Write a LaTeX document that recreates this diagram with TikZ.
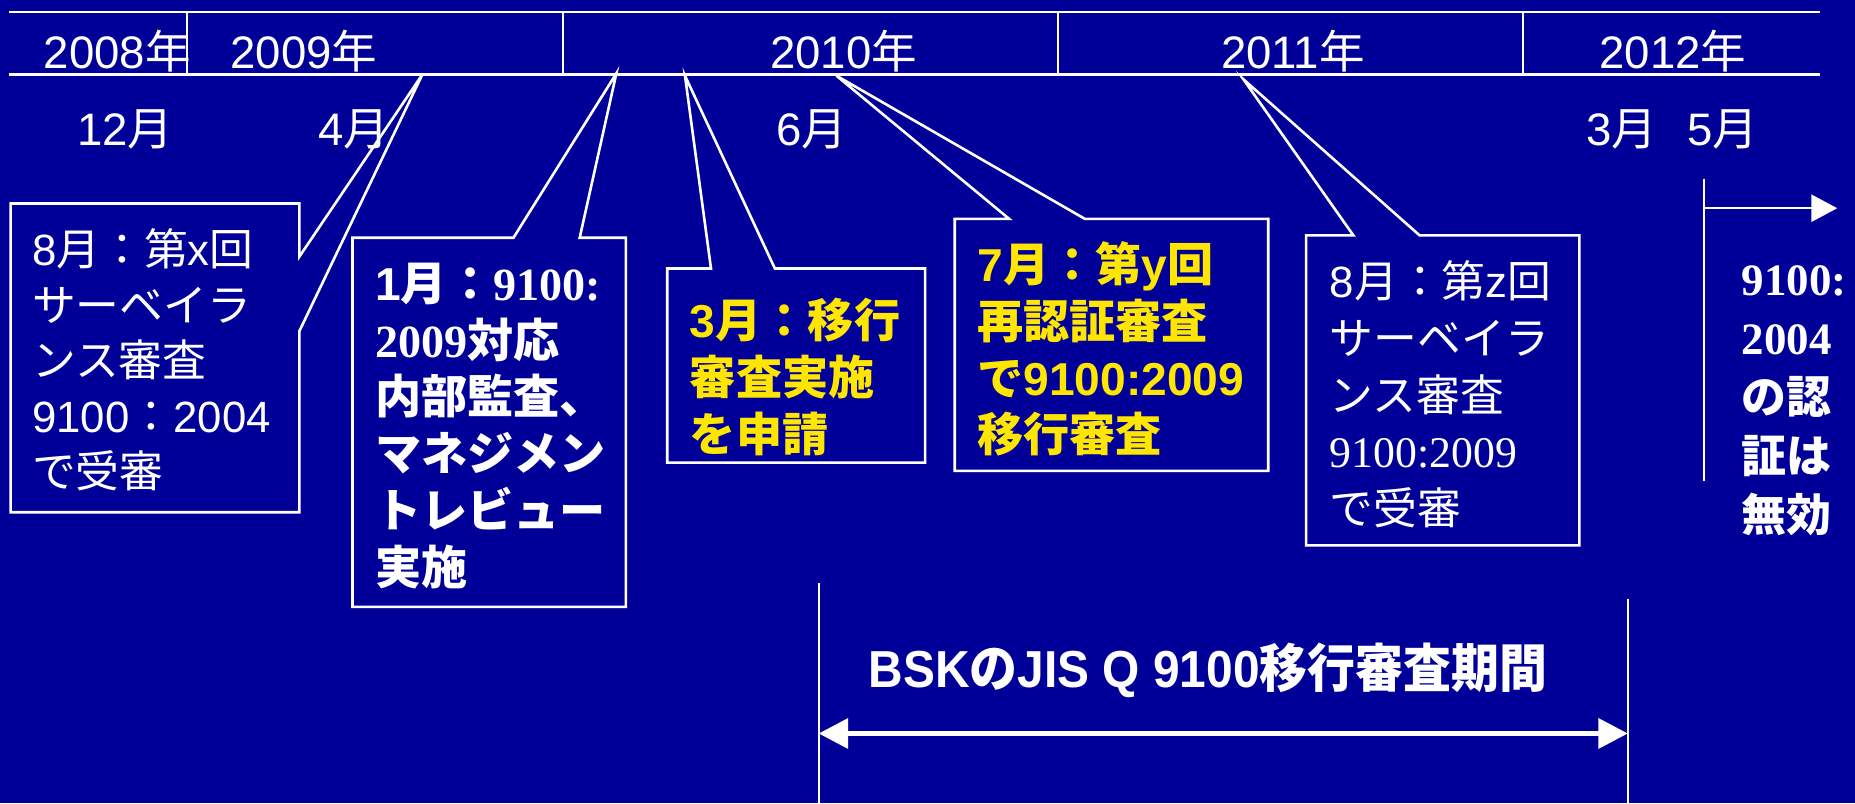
\documentclass[tikz,border=0pt]{standalone}
\usepackage{fontspec}
\usepackage{graphicx}
\setmainfont{Liberation Sans}
\newfontfamily\jfont{Noto Sans CJK JP}
\newfontfamily\tfont{Liberation Serif}
\newcommand\J[1]{{\jfont #1}}
\newcommand\T[1]{{\tfont #1}}
\usetikzlibrary{arrows.meta}
\definecolor{bgblue}{RGB}{0,0,153}
\definecolor{yel}{RGB}{255,230,0}
\begin{document}
\begin{tikzpicture}[x=1pt,y=-1pt,
  tline/.style={draw=white,line width=1.8pt},
  cbox/.style={draw=white,line width=2.2pt,line join=miter},
  lbl/.style={text=white,inner sep=0pt,anchor=base,font=\fontsize{38.5}{44}\selectfont},
  ctxt/.style={anchor=north west,inner sep=0pt,align=left,text=white,font=\fontsize{37}{47}\selectfont},
  cbold/.style={anchor=north west,inner sep=0pt,align=left,text=yel,font=\bfseries\fontsize{39}{48}\selectfont},
  tip/.style={-{Triangle[length=22pt,width=23pt]}}]
\fill[bgblue] (0,0) rectangle (1568,679);
\useasboundingbox (0,0) rectangle (1568,679);
% timeline frame
\coordinate (ta) at (8,10);
\coordinate (tb) at (1538,10);
\coordinate (ba) at (8,63);
\coordinate (bb) at (1538,63);
\draw[tline] (ta) -- (tb);
\draw[tline] (ba) -- (bb);
\draw[tline] (158,10) -- (158,63);
\draw[tline] (476,10) -- (476,63);
\draw[tline] (894,10) -- (894,63);
\draw[tline] (1287,10) -- (1287,63);
% years
\node[lbl] (y2008) at (99,57.5) {2008\J{年}};
\node[lbl] (y2009) at (257,57.5) {2009\J{年}};
\node[lbl] (y2010) at (713,57.5) {2010\J{年}};
\node[lbl] (y2011) at (1093,57.5) {2011\J{年}};
\node[lbl] (y2012) at (1414,57.5) {2012\J{年}};
% months
\node[lbl] (m12) at (106,123) {12\J{月}};
\node[lbl] (m4) at (299,123) {4\J{月}};
\node[lbl] (m6) at (686,123) {6\J{月}};
\node[lbl] (m3) at (1371,123) {3\J{月}};
\node[lbl] (m5) at (1456,123) {5\J{月}};
% callout pointer apexes
\coordinate (p1) at (357,63);
\coordinate (p2) at (521,62);
\coordinate (p3) at (579,64);
\coordinate (p4) at (707,64);
\coordinate (p5) at (1051,67);
% callout 1
\draw[cbox] (9,172) -- (253,172) -- (253,217) -- (p1) -- (253,280) -- (253,433) -- (9,433) -- cycle;
\node[ctxt] (c1) at (27,193) {8\J{月：第}x\J{回}\\\J{サーベイラ}\\\J{ンス審査}\\9100\J{：}2004\\\J{で受審}};
% callout 2
\draw[cbox] (298,201) -- (434,201) -- (p2) -- (490,201) -- (529,201) -- (529,513) -- (298,513) -- cycle;
\node[cbold,text=white] (c2) at (317,222) {1\J{月：}\T{9100:}\\\T{2009}\J{対応}\\\J{内部監査、}\\\J{マネジメン}\\\J{トレビュー}\\\J{実施}};
% callout 3
\draw[cbox] (564,227) -- (601,227) -- (p3) -- (655,227) -- (782,227) -- (782,391) -- (564,391) -- cycle;
\node[cbold] (c3) at (583,252) {3\J{月：移行}\\\J{審査実施}\\\J{を申請}};
% callout 4
\draw[cbox] (807,185) -- (853,185) -- (p4) -- (917,185) -- (1072,185) -- (1072,398) -- (807,398) -- cycle;
\node[cbold] (c4) at (826,204) {7\J{月：第}y\J{回}\\\J{再認証審査}\\\J{で}9100:2009\\\J{移行審査}};
% callout 5
\draw[cbox] (1104,199) -- (1144,199) -- (p5) -- (1200,199) -- (1335,199) -- (1335,461) -- (1104,461) -- cycle;
\node[ctxt,font=\fontsize{37}{48}\selectfont] (c5) at (1124,220) {8\J{月：第}z\J{回}\\\J{サーベイラ}\\\J{ンス審査}\\\T{9100:2009}\\\J{で受審}};
% right: validity
\coordinate (v1) at (1440,151);
\coordinate (v2) at (1440,407);
\coordinate (va) at (1440,176);
\coordinate (vb) at (1553,176);
\draw[tline] (v1) -- (v2);
\draw[tline,tip] (va) -- (vb);
\node[anchor=north west,inner sep=0pt,align=left,text=white,font=\bfseries\fontsize{38}{50}\selectfont] (inval) at (1472,224)
  {\T{9100:}\\\T{2004}\\\J{の認}\\\J{証は}\\\J{無効}};
% bottom: transition period
\coordinate (l1) at (692,493);
\coordinate (l2) at (692,679);
\coordinate (r1) at (1376,506);
\coordinate (r2) at (1376,679);
\draw[tline] (l1) -- (l2);
\draw[tline] (r1) -- (r2);
\node[anchor=base,inner sep=0pt,text=white,font=\bfseries\fontsize{44}{50}\selectfont] (period) at (1021,581)
  {\scalebox{0.92}[1]{BSK\J{の}JIS Q 9100\J{移行審査期間}}};
\coordinate (da) at (692,620);
\coordinate (db) at (1376,620);
\draw[draw=white,line width=4.3pt,{Triangle[length=25pt,width=25pt]}-{Triangle[length=25pt,width=25pt]}] (da) -- (db);
\end{tikzpicture}
\end{document}
